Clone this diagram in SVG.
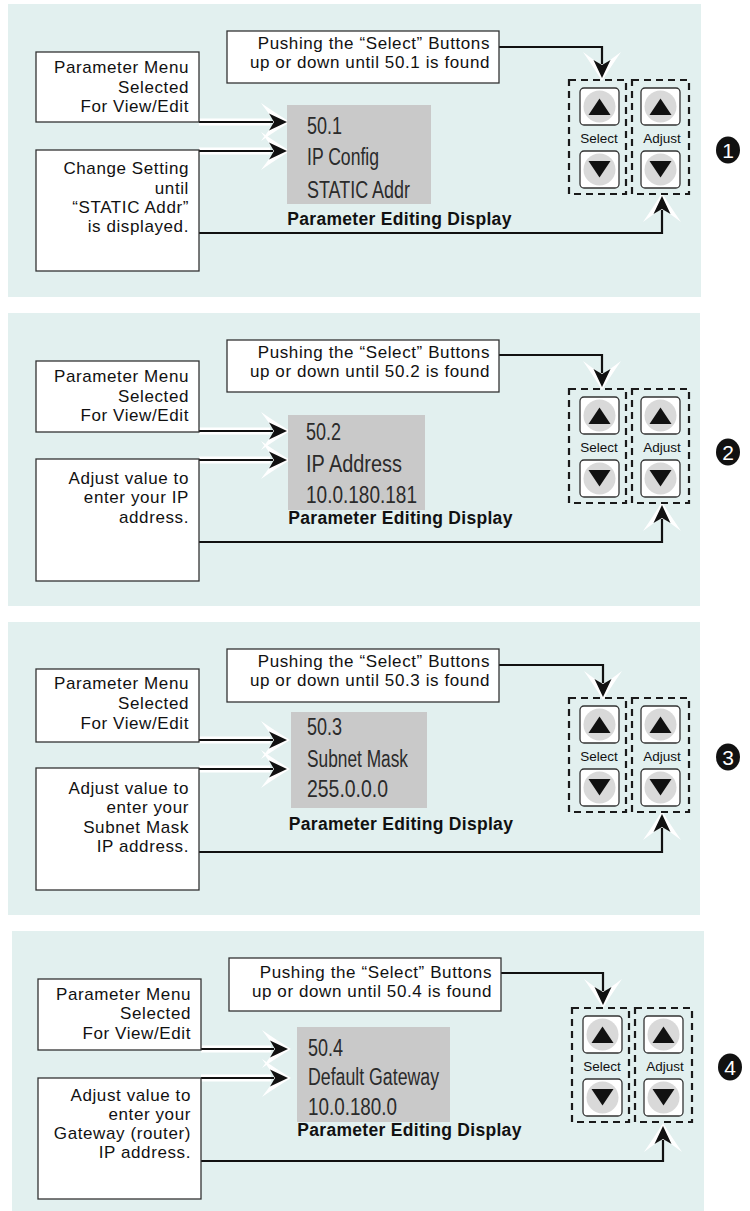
<svg xmlns="http://www.w3.org/2000/svg" xmlns:xlink="http://www.w3.org/1999/xlink" width="750" height="1211" viewBox="0 0 750 1211">
<style>
.bg{fill:#e2f0ef}
.box{fill:#fff;stroke:#333;stroke-width:1.3}
.lbl{font-family:"Liberation Sans",Arial,sans-serif;font-size:17px;letter-spacing:0.6px;fill:#111;text-anchor:end}
.disp{fill:#c9c9c9}
.dt{font-family:"Liberation Sans",Arial,sans-serif;font-size:23px;fill:#2b2b2b}
.title{font-family:"Liberation Sans",Arial,sans-serif;font-size:17.5px;font-weight:bold;letter-spacing:0.3px;fill:#111;text-anchor:middle}
.dash{fill:none;stroke:#1a1a1a;stroke-width:2.2;stroke-dasharray:7 5}
.btn{fill:#fff;stroke:#333;stroke-width:1.3}
.bc{fill:#d9d9d9}
.tri{fill:#111}
.bl{font-family:"Liberation Sans",Arial,sans-serif;font-size:13.5px;fill:#111;text-anchor:middle}
.num{fill:#111}
.nt{font-family:"Liberation Sans",Arial,sans-serif;font-size:21px;fill:#fff;text-anchor:middle}
.conn{fill:none;stroke:#111;stroke-width:2.2}
.casing{fill:none;stroke:#fff;stroke-width:7}
</style>
<defs>
<marker id="arr" markerUnits="userSpaceOnUse" viewBox="-20 -22 34 44" refX="0" refY="0" markerWidth="34" markerHeight="44" orient="auto" overflow="visible">
<path d="M13,0 Q0,-8 -16,-19 Q-8,-8 -4,-3 L-4,3 Q-8,8 -16,19 Q0,8 13,0 Z" fill="#fff"/>
<path d="M10,0 L-8,-8.5 L-3,0 L-8,8.5 Z" fill="#111"/>
</marker>
<g id="cluster">
<rect class="dash" x="0" y="0" width="57" height="114"/>
<rect class="dash" x="63" y="0" width="57" height="114"/>
<rect class="btn" x="11" y="8" width="39" height="37" rx="4"/>
<circle class="bc" cx="30.5" cy="26.5" r="16"/>
<polygon class="tri" points="30.5,18.5 41.5,35 19.5,35"/>
<rect class="btn" x="11" y="71" width="39" height="37" rx="4"/>
<circle class="bc" cx="30.5" cy="89.5" r="16"/>
<polygon class="tri" points="19.5,81 41.5,81 30.5,97.5"/>
<rect class="btn" x="72" y="8" width="39" height="37" rx="4"/>
<circle class="bc" cx="91.5" cy="26.5" r="16"/>
<polygon class="tri" points="91.5,18.5 102.5,35 80.5,35"/>
<rect class="btn" x="72" y="71" width="39" height="37" rx="4"/>
<circle class="bc" cx="91.5" cy="89.5" r="16"/>
<polygon class="tri" points="80.5,81 102.5,81 91.5,97.5"/>
<text class="bl" x="30" y="63">Select</text>
<text class="bl" x="93" y="63">Adjust</text>
</g>
</defs>

<g id="backgrounds">
<rect class="bg" x="8" y="4" width="693" height="293"/>
<rect class="bg" x="8" y="313" width="692" height="293"/>
<rect class="bg" x="8" y="622" width="692" height="293"/>
<rect class="bg" x="12" y="931" width="692" height="280"/>
</g>

<g id="connectors">
<path class="casing" d="M199,122 H270"/>
<path class="casing" d="M199,151 H270"/>
<path class="conn" d="M199,122 H277" marker-end="url(#arr)"/>
<path class="conn" d="M199,151 H277" marker-end="url(#arr)"/>
<path class="conn" d="M499,47 H602 V68" marker-end="url(#arr)"/>
<path class="conn" d="M199,233 H662 V206" marker-end="url(#arr)"/>

<path class="casing" d="M199,431 H270"/>
<path class="casing" d="M199,460 H270"/>
<path class="conn" d="M199,431 H277" marker-end="url(#arr)"/>
<path class="conn" d="M199,460 H277" marker-end="url(#arr)"/>
<path class="conn" d="M499,355 H602 V377" marker-end="url(#arr)"/>
<path class="conn" d="M199,542 H662 V515" marker-end="url(#arr)"/>

<path class="casing" d="M199,740 H270"/>
<path class="casing" d="M199,769 H270"/>
<path class="conn" d="M199,740 H277" marker-end="url(#arr)"/>
<path class="conn" d="M199,769 H277" marker-end="url(#arr)"/>
<path class="conn" d="M499,665 H603 V687" marker-end="url(#arr)"/>
<path class="conn" d="M199,852 H662 V824" marker-end="url(#arr)"/>

<path class="casing" d="M201,1049 H271"/>
<path class="casing" d="M201,1078 H271"/>
<path class="conn" d="M201,1049 H278" marker-end="url(#arr)"/>
<path class="conn" d="M201,1078 H278" marker-end="url(#arr)"/>
<path class="conn" d="M501,973 H603 V995" marker-end="url(#arr)"/>
<path class="conn" d="M201,1161 H663 V1136" marker-end="url(#arr)"/>
</g>

<!-- Panel 1 -->
<g id="p1-top">
<rect class="box" x="227" y="31" width="272" height="52"/>
<text class="lbl" x="490" y="49">Pushing the “Select” Buttons</text>
<text class="lbl" x="490" y="68">up or down until 50.1 is found</text>
</g>
<g id="p1-menu">
<rect class="box" x="36" y="52" width="163" height="70"/>
<text class="lbl" x="189" y="73">Parameter Menu</text>
<text class="lbl" x="189" y="92.5">Selected</text>
<text class="lbl" x="189" y="112">For View/Edit</text>
</g>
<g id="p1-change">
<rect class="box" x="36" y="150" width="163" height="121"/>
<text class="lbl" x="189" y="174">Change Setting</text>
<text class="lbl" x="189" y="194">until</text>
<text class="lbl" x="189" y="213">“STATIC Addr”</text>
<text class="lbl" x="189" y="232">is displayed.</text>
</g>
<g id="p1-display">
<rect class="disp" x="287" y="105" width="144" height="99"/>
<text class="dt" x="307" y="134" textLength="35" lengthAdjust="spacingAndGlyphs">50.1</text>
<text class="dt" x="307" y="165" textLength="72" lengthAdjust="spacingAndGlyphs">IP Config</text>
<text class="dt" x="307" y="198" textLength="103" lengthAdjust="spacingAndGlyphs">STATIC Addr</text>
<text class="title" x="399.5" y="225">Parameter Editing Display</text>
</g>
<g id="p1-buttons"><use xlink:href="#cluster" href="#cluster" x="569" y="80"/></g>
<g id="p1-num"><ellipse class="num" cx="728" cy="150" rx="12" ry="13.5"/><text class="nt" x="728" y="157.5">1</text></g>

<!-- Panel 2 -->
<g id="p2-top">
<rect class="box" x="227" y="340" width="272" height="52"/>
<text class="lbl" x="490" y="358">Pushing the “Select” Buttons</text>
<text class="lbl" x="490" y="377">up or down until 50.2 is found</text>
</g>
<g id="p2-menu">
<rect class="box" x="36" y="361" width="163" height="71"/>
<text class="lbl" x="189" y="382">Parameter Menu</text>
<text class="lbl" x="189" y="401.5">Selected</text>
<text class="lbl" x="189" y="421">For View/Edit</text>
</g>
<g id="p2-adjust">
<rect class="box" x="36" y="459" width="163" height="122"/>
<text class="lbl" x="189" y="484">Adjust value to</text>
<text class="lbl" x="189" y="503">enter your IP</text>
<text class="lbl" x="189" y="523">address.</text>
</g>
<g id="p2-display">
<rect class="disp" x="288" y="415" width="137" height="95"/>
<text class="dt" x="306" y="440" textLength="35" lengthAdjust="spacingAndGlyphs">50.2</text>
<text class="dt" x="306" y="472" textLength="96" lengthAdjust="spacingAndGlyphs">IP Address</text>
<text class="dt" x="306" y="503" textLength="111" lengthAdjust="spacingAndGlyphs">10.0.180.181</text>
<text class="title" x="400.5" y="524">Parameter Editing Display</text>
</g>
<g id="p2-buttons"><use xlink:href="#cluster" href="#cluster" x="569" y="389"/></g>
<g id="p2-num"><ellipse class="num" cx="728" cy="452" rx="12" ry="13.5"/><text class="nt" x="728" y="459.5">2</text></g>

<!-- Panel 3 -->
<g id="p3-top">
<rect class="box" x="227" y="649" width="272" height="53"/>
<text class="lbl" x="490" y="667">Pushing the “Select” Buttons</text>
<text class="lbl" x="490" y="686">up or down until 50.3 is found</text>
</g>
<g id="p3-menu">
<rect class="box" x="36" y="669" width="163" height="73"/>
<text class="lbl" x="189" y="689">Parameter Menu</text>
<text class="lbl" x="189" y="709">Selected</text>
<text class="lbl" x="189" y="729">For View/Edit</text>
</g>
<g id="p3-adjust">
<rect class="box" x="36" y="768" width="163" height="122"/>
<text class="lbl" x="189" y="794">Adjust value to</text>
<text class="lbl" x="189" y="813">enter your</text>
<text class="lbl" x="189" y="833">Subnet Mask</text>
<text class="lbl" x="189" y="852">IP address.</text>
</g>
<g id="p3-display">
<rect class="disp" x="291" y="712" width="136" height="96"/>
<text class="dt" x="307" y="735" textLength="35" lengthAdjust="spacingAndGlyphs">50.3</text>
<text class="dt" x="307" y="767" textLength="101" lengthAdjust="spacingAndGlyphs">Subnet Mask</text>
<text class="dt" x="307" y="797" textLength="81" lengthAdjust="spacingAndGlyphs">255.0.0.0</text>
<text class="title" x="401" y="830">Parameter Editing Display</text>
</g>
<g id="p3-buttons"><use xlink:href="#cluster" href="#cluster" x="569" y="698"/></g>
<g id="p3-num"><ellipse class="num" cx="728" cy="757" rx="12" ry="13.5"/><text class="nt" x="728" y="764.5">3</text></g>

<!-- Panel 4 -->
<g id="p4-top">
<rect class="box" x="229" y="958" width="272" height="53"/>
<text class="lbl" x="492" y="978">Pushing the “Select” Buttons</text>
<text class="lbl" x="492" y="997">up or down until 50.4 is found</text>
</g>
<g id="p4-menu">
<rect class="box" x="38" y="979" width="163" height="71"/>
<text class="lbl" x="191" y="1000">Parameter Menu</text>
<text class="lbl" x="191" y="1019">Selected</text>
<text class="lbl" x="191" y="1039">For View/Edit</text>
</g>
<g id="p4-adjust">
<rect class="box" x="38" y="1078" width="163" height="121"/>
<text class="lbl" x="191" y="1101">Adjust value to</text>
<text class="lbl" x="191" y="1120">enter your</text>
<text class="lbl" x="191" y="1139">Gateway (router)</text>
<text class="lbl" x="191" y="1158">IP address.</text>
</g>
<g id="p4-display">
<rect class="disp" x="297" y="1027" width="153" height="95"/>
<text class="dt" x="308" y="1056" textLength="35" lengthAdjust="spacingAndGlyphs">50.4</text>
<text class="dt" x="308" y="1085" textLength="131" lengthAdjust="spacingAndGlyphs">Default Gateway</text>
<text class="dt" x="308" y="1115" textLength="89" lengthAdjust="spacingAndGlyphs">10.0.180.0</text>
<text class="title" x="409.5" y="1136">Parameter Editing Display</text>
</g>
<g id="p4-buttons"><use xlink:href="#cluster" href="#cluster" x="572" y="1008"/></g>
<g id="p4-num"><ellipse class="num" cx="730" cy="1067" rx="12" ry="13.5"/><text class="nt" x="730" y="1074.5">4</text></g>
</svg>
